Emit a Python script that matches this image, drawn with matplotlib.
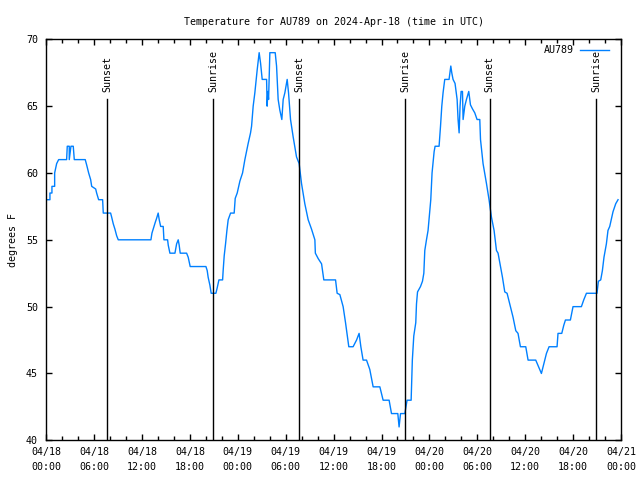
#!/usr/bin/env python
"""
temperature trace for AU789 with sunrise / sunset markers
"""

import matplotlib
matplotlib.use('Agg')
import matplotlib.pyplot as plt
from matplotlib.ticker import MultipleLocator

## data: hours since 2024-04-18 00:00 UTC, temperature in F
hours = [0.00, 0.46, 0.46, 0.71, 0.71, 1.05, 1.05, 1.30, 1.55, 2.55, 2.63, 2.88, 2.88, 3.09, 3.38, 3.51,
         4.88, 5.06, 5.31, 5.56, 5.69, 6.19, 6.31, 6.56, 7.06, 7.14, 8.06, 8.19, 8.39, 8.60, 8.82, 9.02,
         13.11, 13.24, 13.49, 13.65, 13.82, 14.02, 14.15, 14.33, 14.65, 14.74, 15.20, 15.28, 15.49, 16.12,
         16.33, 16.53, 16.65, 16.78, 17.58, 17.78, 18.03, 20.00, 20.16, 20.28, 20.50, 20.66, 21.25, 21.41,
         21.63, 22.09, 22.16, 22.29, 22.46, 22.63, 22.79, 23.09, 23.54, 23.67, 23.92, 24.26, 24.59, 24.88,
         25.29, 25.59, 25.72, 25.92, 26.13, 26.42, 26.67, 26.85, 27.05, 27.60, 27.67, 27.76, 27.85, 28.01,
         28.68, 28.85, 29.05, 29.26, 29.51, 29.68, 29.89, 30.18, 30.35, 30.60, 30.93, 31.35, 31.68, 31.98,
         32.39, 32.81, 33.23, 33.65, 33.71, 34.06, 34.49, 34.77, 36.24, 36.44, 36.78, 37.19, 37.49, 37.90,
         38.44, 38.87, 39.19, 39.41, 39.69, 40.12, 40.53, 40.95, 41.79, 42.20, 42.95, 43.25, 44.04, 44.20,
         44.38, 44.92, 45.20, 45.71, 45.86, 46.04, 46.29, 46.38, 46.51, 46.88, 47.13, 47.30, 47.42, 47.63,
         47.83, 48.17, 48.33, 48.59, 48.71, 49.21, 49.39, 49.55, 49.71, 49.92, 50.46, 50.68, 50.80, 50.96,
         51.21, 51.47, 51.59, 51.72, 51.84, 51.97, 52.14, 52.22, 52.43, 52.64, 52.93, 53.14, 53.39, 53.68,
         53.97, 54.31, 54.40, 54.72, 55.15, 55.47, 55.77, 56.10, 56.40, 56.60, 56.90, 57.15, 57.44, 57.73,
         58.06, 58.48, 58.82, 59.10, 59.40, 60.07, 60.36, 61.32, 61.61, 62.03, 62.32, 62.66, 62.99, 63.99,
         64.11, 64.58, 64.83, 65.04, 65.66, 65.99, 67.04, 67.33, 67.67, 68.99, 69.17, 69.46, 69.67, 69.87,
         70.17, 70.37, 70.59, 71.00, 71.34, 71.63]
temps = [58, 58, 58.5, 58.5, 59, 59, 60, 60.7, 61, 61, 62, 62, 61, 62, 62, 61,
         61, 60.6, 60, 59.5, 59, 58.8, 58.5, 58, 58, 57, 57, 56.7, 56.2, 55.8, 55.3, 55,
         55, 55.5, 56, 56.3, 56.6, 57, 56.5, 56, 56, 55, 55, 54.6, 54, 54,
         54.7, 55, 54.6, 54, 54, 53.7, 53, 53, 52.7, 52.2, 51.6, 51, 51, 51.4,
         52, 52, 52.7, 53.8, 54.7, 55.7, 56.5, 57, 57, 58.1, 58.5, 59.4, 60, 61,
         62.2, 63, 63.5, 65, 66, 67.7, 69, 68.2, 67, 67, 65, 66.1, 65.5, 69,
         69, 68, 65.5, 64.7, 64, 65.5, 66, 67, 66, 64, 62.7, 61.2, 60.7, 59.2,
         57.7, 56.5, 55.8, 55, 54, 53.6, 53.2, 52, 52, 51, 50.9, 50, 48.8, 47,
         47, 47.5, 48, 47, 46, 46, 45.3, 44, 44, 43, 43, 42, 42, 41,
         42, 42, 43, 43, 46, 47.8, 48.8, 50.2, 51.1, 51.5, 51.9, 52.5, 54.2, 55,
         55.7, 58, 60, 61.6, 62, 62, 63.5, 65, 66, 67, 67, 68, 67.5, 67,
         66.7, 65.5, 64, 63, 65, 66.1, 66.1, 64, 65, 65.5, 66.1, 65.1, 64.8, 64.5,
         64, 64, 62.5, 60.7, 59.2, 58, 56.7, 55.7, 54.2, 54, 53, 52.2, 51.1, 51,
         50.2, 49.2, 48.2, 48, 47, 47, 46, 46, 45.6, 45, 45.7, 46.5, 47, 47,
         48, 48, 48.6, 49, 49, 50, 50, 50.5, 51, 51, 51.9, 52, 52.7, 53.7,
         54.7, 55.7, 56, 57.1, 57.7, 58]

sun_hours = [7.64, 20.91, 31.68, 44.95, 55.56, 68.87]
sun_labels = ['Sunset', 'Sunrise', 'Sunset', 'Sunrise', 'Sunset', 'Sunrise']

tick_hours = [0, 6, 12, 18, 24, 30, 36, 42, 48, 54, 60, 66, 72]
tick_labels = ['04/18\n00:00', '04/18\n06:00', '04/18\n12:00', '04/18\n18:00',
               '04/19\n00:00', '04/19\n06:00', '04/19\n12:00', '04/19\n18:00',
               '04/20\n00:00', '04/20\n06:00', '04/20\n12:00', '04/20\n18:00',
               '04/21\n00:00']

## style
font_size = 7.2
font_name = 'DejaVu Sans Mono'
line_color = '#0080ff'
plt.rcParams['font.family'] = font_name
plt.rcParams['font.size'] = font_size

fig = plt.figure(figsize=(6.4, 4.8), dpi=100)
ax = fig.add_axes([0.0723, 0.0827, 0.8980, 0.8354])

ax.plot(hours, temps, color=line_color, lw=1.0, label='AU789')

for h, lab in zip(sun_hours, sun_labels):
    ax.axvline(h, ymin=0, ymax=0.851, color='black', lw=1.0)
    ax.text(h, 0.869, lab, transform=ax.get_xaxis_transform(), rotation=90,
            ha='center', va='bottom', fontsize=font_size)

ax.set_xlim((0, 72))
ax.set_ylim((40, 70))
ax.set_xticks(tick_hours)
ax.set_xticklabels(tick_labels, linespacing=1.6)
ax.xaxis.set_minor_locator(MultipleLocator(2))
ax.yaxis.set_major_locator(MultipleLocator(5))

ax.tick_params(which='both', direction='in', top=True, right=True, width=1.0)
ax.tick_params(which='major', length=4.5)
ax.tick_params(which='minor', length=3)
ax.tick_params(axis='x', pad=5)
ax.tick_params(axis='y', pad=6)
for sp in ax.spines.values():
    sp.set_linewidth(1.0)

ax.set_title('Temperature for AU789 on 2024-Apr-18 (time in UTC)', fontsize=font_size, pad=10.5)
ax.set_ylabel('degrees F', fontsize=font_size, labelpad=6)
ax.legend(loc='upper right', bbox_to_anchor=(0.9896, 1.0), frameon=False, markerfirst=False,
          handlelength=2.9, fontsize=font_size, borderaxespad=0.2, handletextpad=0.6)

plt.savefig('out.png', dpi=100)
